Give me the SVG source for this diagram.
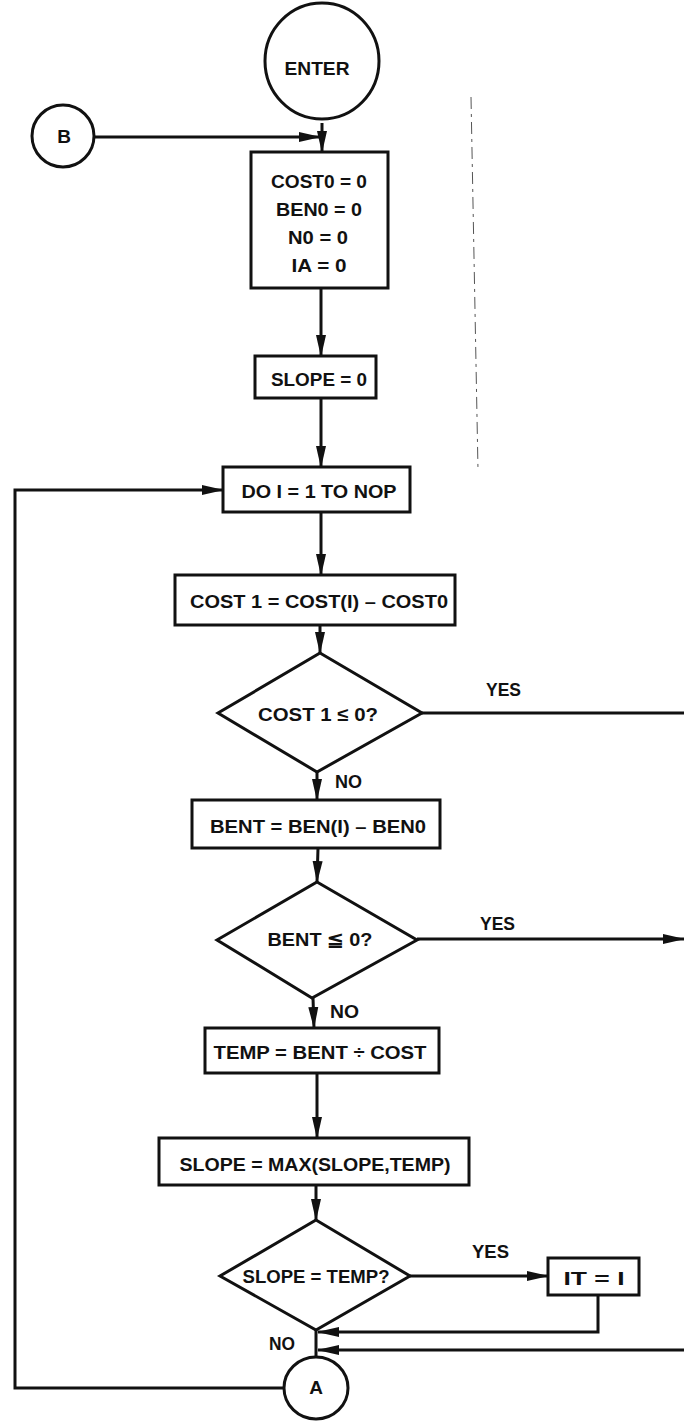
<svg xmlns="http://www.w3.org/2000/svg" width="684" height="1421" viewBox="0 0 684 1421">
<style>
.s{fill:#fff;stroke:#111;stroke-width:3}
.c{fill:none;stroke:#111;stroke-width:3}
.t{font-family:"Liberation Sans",Arial,sans-serif;font-weight:bold;font-size:19px;fill:#111;text-anchor:middle}
.l{font-family:"Liberation Sans",Arial,sans-serif;font-weight:bold;font-size:19px;fill:#111}
</style>
<defs>
<marker id="ah" markerUnits="userSpaceOnUse" markerWidth="22" markerHeight="11" refX="21" refY="5.5" orient="auto">
<path d="M0,0.5 L22,5.5 L0,10.5 Z" fill="#111"/>
</marker>
</defs>
<rect width="684" height="1421" fill="#fff"/>
<path d="M471,97 L478,470" stroke="#555" stroke-width="1" stroke-dasharray="12,5,3,5" fill="none"/>
<g id="connectors">
<line class="c" x1="322" y1="123" x2="322" y2="152" marker-end="url(#ah)"/>
<line class="c" x1="94" y1="137" x2="320" y2="137" marker-end="url(#ah)"/>
<line class="c" x1="321" y1="288" x2="321" y2="356" marker-end="url(#ah)"/>
<line class="c" x1="321" y1="398" x2="321" y2="467" marker-end="url(#ah)"/>
<line class="c" x1="321" y1="512" x2="321" y2="575" marker-end="url(#ah)"/>
<line class="c" x1="320" y1="625" x2="320" y2="653" marker-end="url(#ah)"/>
<line class="c" x1="422" y1="713" x2="684" y2="713"/>
<line class="c" x1="317" y1="772" x2="317" y2="800" marker-end="url(#ah)"/>
<line class="c" x1="318" y1="848" x2="317" y2="882" marker-end="url(#ah)"/>
<line class="c" x1="417" y1="939" x2="684" y2="939" marker-end="url(#ah)"/>
<line class="c" x1="313" y1="998" x2="314" y2="1028" marker-end="url(#ah)"/>
<line class="c" x1="317" y1="1073" x2="317" y2="1138" marker-end="url(#ah)"/>
<line class="c" x1="316" y1="1185" x2="316" y2="1220" marker-end="url(#ah)"/>
<line class="c" x1="410" y1="1276" x2="548" y2="1276" marker-end="url(#ah)"/>
<polyline class="c" points="598,1295 598,1332 318,1332" marker-end="url(#ah)"/>
<line class="c" x1="684" y1="1350" x2="318" y2="1350" marker-end="url(#ah)"/>
<line class="c" x1="316" y1="1330" x2="316" y2="1357"/>
<polyline class="c" points="284,1388 15,1388 15,490 223,490" marker-end="url(#ah)"/>
</g>
<g id="enter">
<ellipse class="s" cx="322" cy="61" rx="57" ry="58"/>
<text class="t" x="317" y="75" textLength="65" lengthAdjust="spacingAndGlyphs">ENTER</text>
</g>
<g id="b">
<circle class="s" cx="63" cy="136" r="31"/>
<text class="t" x="64" y="143">B</text>
</g>
<g id="init">
<rect class="s" x="251" y="152" width="137" height="136"/>
<text class="t" x="319" y="188" textLength="96" lengthAdjust="spacingAndGlyphs">COST0 = 0</text>
<text class="t" x="319" y="216" textLength="86" lengthAdjust="spacingAndGlyphs">BEN0 = 0</text>
<text class="t" x="318" y="244" textLength="60" lengthAdjust="spacingAndGlyphs">N0 = 0</text>
<text class="t" x="319" y="272" textLength="55" lengthAdjust="spacingAndGlyphs">IA = 0</text>
</g>
<g id="slope0">
<rect class="s" x="255" y="356" width="121" height="42"/>
<text class="t" x="319" y="386" textLength="96" lengthAdjust="spacingAndGlyphs">SLOPE = 0</text>
</g>
<g id="do">
<rect class="s" x="223" y="467" width="187" height="45"/>
<text class="t" x="319" y="498" textLength="155" lengthAdjust="spacingAndGlyphs">DO I = 1 TO NOP</text>
</g>
<g id="cost1">
<rect class="s" x="175" y="575" width="280" height="50"/>
<text class="t" x="319" y="608" textLength="258" lengthAdjust="spacingAndGlyphs">COST 1 = COST(I) – COST0</text>
</g>
<g id="d1">
<polygon class="s" points="320,653 422,713 317,772 218,713"/>
<text class="t" x="318" y="721" textLength="120" lengthAdjust="spacingAndGlyphs">COST 1 ≤ 0?</text>
<text class="l" x="486" y="696" textLength="35" lengthAdjust="spacingAndGlyphs">YES</text>
<text class="l" x="335" y="788" textLength="27" lengthAdjust="spacingAndGlyphs">NO</text>
</g>
<g id="bent">
<rect class="s" x="192" y="800" width="248" height="48"/>
<text class="t" x="318" y="833" textLength="216" lengthAdjust="spacingAndGlyphs">BENT = BEN(I) – BEN0</text>
</g>
<g id="d2">
<polygon class="s" points="317,882 417,940 312,998 217,940"/>
<text class="t" x="320" y="946" textLength="105" lengthAdjust="spacingAndGlyphs">BENT ≦ 0?</text>
<text class="l" x="480" y="930" textLength="35" lengthAdjust="spacingAndGlyphs">YES</text>
<text class="l" x="330" y="1018" textLength="29" lengthAdjust="spacingAndGlyphs">NO</text>
</g>
<g id="temp">
<rect class="s" x="205" y="1028" width="234" height="45"/>
<text class="t" x="320" y="1059" textLength="213" lengthAdjust="spacingAndGlyphs">TEMP = BENT ÷ COST</text>
</g>
<g id="slopemax">
<rect class="s" x="159" y="1138" width="310" height="47"/>
<text class="t" x="315" y="1171" textLength="271" lengthAdjust="spacingAndGlyphs">SLOPE = MAX(SLOPE,TEMP)</text>
</g>
<g id="d3">
<polygon class="s" points="316,1220 410,1276 316,1330 220,1276"/>
<text class="t" x="316" y="1283" textLength="147" lengthAdjust="spacingAndGlyphs">SLOPE = TEMP?</text>
<text class="l" x="472" y="1258" textLength="37" lengthAdjust="spacingAndGlyphs">YES</text>
<text class="l" x="269" y="1350" textLength="26" lengthAdjust="spacingAndGlyphs">NO</text>
</g>
<g id="it">
<rect class="s" x="548" y="1258" width="91" height="37"/>
<text class="t" x="594" y="1285" textLength="61" lengthAdjust="spacingAndGlyphs">IT = I</text>
</g>
<g id="a">
<ellipse class="s" cx="316" cy="1388" rx="32" ry="31"/>
<text class="t" x="316" y="1394">A</text>
</g>
</svg>
